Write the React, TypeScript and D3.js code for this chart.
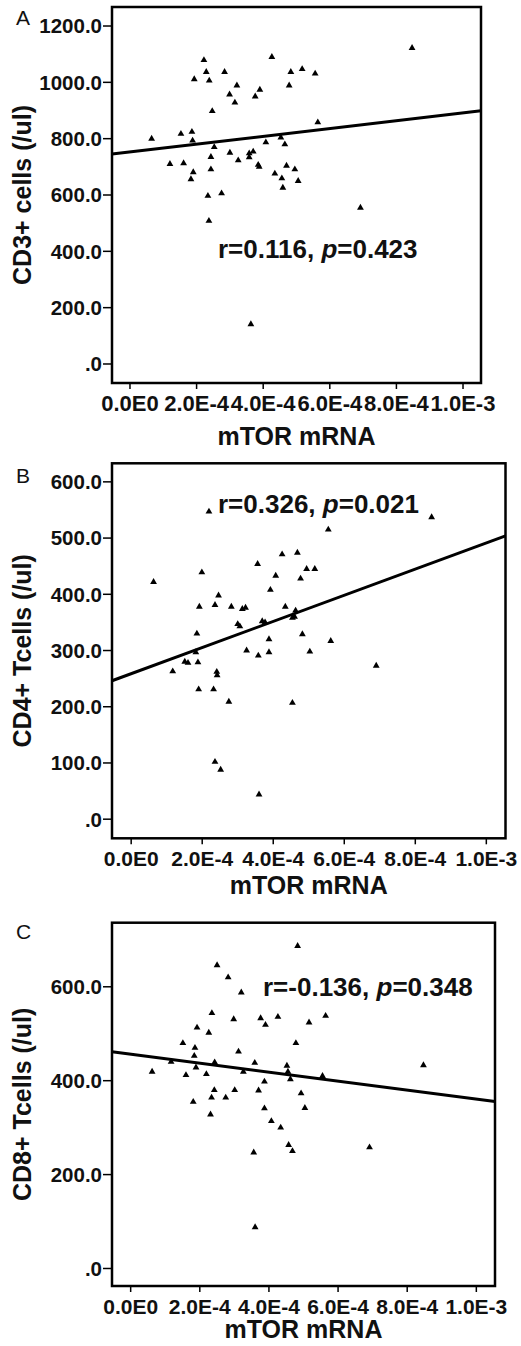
import React from "react";
import * as d3 from "d3";

// ---------- data ----------
const xTickValues = [0, 2e-4, 4e-4, 6e-4, 8e-4, 1e-3];
const xTickLabels = ["0.0E0", "2.0E-4", "4.0E-4", "6.0E-4", "8.0E-4", "1.0E-3"];

const mtorA = [0.65e-4,1.2e-4,1.53e-4,1.61e-4,1.86e-4,1.88e-4,1.9e-4,1.83e-4,1.93e-4,2.22e-4,2.29e-4,2.38e-4,2.47e-4,2.53e-4,2.43e-4,2.43e-4,2.34e-4,2.75e-4,2.37e-4,2.84e-4,2.99e-4,3.15e-4,3.21e-4,3.0e-4,3.25e-4,3.58e-4,3.7e-4,3.58e-4,3.76e-4,3.9e-4,3.85e-4,4.26e-4,4.83e-4,4.78e-4,5.17e-4,5.56e-4,5.64e-4,8.47e-4,6.92e-4,4.08e-4,4.53e-4,4.65e-4,3.88e-4,4.7e-4,4.95e-4,4.35e-4,4.56e-4,5.05e-4,4.59e-4,3.63e-4];
const cd3 = [800,710,817,713,824,793,681,656,1011,1079,1037,1006,898,770,735,691,597,606,508,1037,957,928,989,750,723,748,754,734,950,974,707,1090,1037,989,1047,1031,858,1122,555,787,804,780,700,704,691,676,659,650,626,141];

const mtorB = [0.63e-4,1.17e-4,1.51e-4,1.6e-4,1.82e-4,1.85e-4,1.88e-4,1.9e-4,1.92e-4,1.99e-4,2.19e-4,2.32e-4,2.36e-4,2.36e-4,2.41e-4,2.42e-4,2.46e-4,2.52e-4,2.75e-4,2.82e-4,3.0e-4,3.06e-4,3.13e-4,3.22e-4,3.25e-4,3.56e-4,3.58e-4,3.6e-4,3.69e-4,3.77e-4,3.88e-4,3.88e-4,3.92e-4,4.07e-4,4.25e-4,4.34e-4,4.54e-4,4.6e-4,4.54e-4,4.63e-4,4.68e-4,4.77e-4,4.82e-4,4.94e-4,5.03e-4,5.17e-4,5.55e-4,5.62e-4,6.9e-4,8.46e-4];
const cd4 = [422,263,280,278,297,330,279,231,378,439,547,231,381,102,262,256,398,88,209,378,347,343,374,376,300,454,291,44,352,350,320,297,408,433,471,378,358,360,207,371,474,428,329,445,298,445,515,317,273,537];

const mtorC = [0.62e-4,1.17e-4,1.51e-4,1.6e-4,1.81e-4,1.84e-4,1.86e-4,1.89e-4,1.92e-4,2.19e-4,2.26e-4,2.31e-4,2.34e-4,2.35e-4,2.42e-4,2.43e-4,2.5e-4,2.75e-4,2.82e-4,2.98e-4,3.01e-4,3.12e-4,3.2e-4,3.26e-4,3.56e-4,3.59e-4,3.6e-4,3.7e-4,3.76e-4,3.87e-4,3.87e-4,3.9e-4,4.07e-4,4.26e-4,4.34e-4,4.52e-4,4.55e-4,4.57e-4,4.62e-4,4.68e-4,4.78e-4,4.83e-4,4.93e-4,5.04e-4,5.16e-4,5.55e-4,5.64e-4,6.91e-4,8.47e-4];
const cd8 = [419,440,480,412,355,453,470,428,513,414,502,328,364,544,380,439,646,364,620,531,380,462,588,419,247,438,88,379,533,398,341,519,314,536,300,432,419,263,403,250,480,687,373,342,524,410,538,258,433];

const yTicksA = [0, 200, 400, 600, 800, 1000, 1200];
const yLabelsA = [".0", "200.0", "400.0", "600.0", "800.0", "1000.0", "1200.0"];
const yTicksB = [0, 100, 200, 300, 400, 500, 600];
const yLabelsB = [".0", "100.0", "200.0", "300.0", "400.0", "500.0", "600.0"];
const yTicksC = [0, 200, 400, 600];
const yLabelsC = [".0", "200.0", "400.0", "600.0"];

// fitted lines: [intercept, slope]
const fitA = [753, 138400];
const fitB = [258.8, 232500];
const fitC = [456.3, -95700];

const statsA = ["0.116", "0.423"];
const statsB = ["0.326", "0.021"];
const statsC = ["-0.136", "0.348"];

const yTitles = ["CD3+ cells (/ul)", "CD4+ Tcells (/ul)", "CD8+ Tcells (/ul)"];
const xTitle = "mTOR mRNA";
const panelLetters = ["A", "B", "C"];

const FONT = "'Liberation Sans', Arial, Helvetica, sans-serif";

type PanelProps = {
  xs: number[]; ys: number[];
  yTicks: number[]; yLabels: string[];
  fit: number[]; stats: string[];
  yTitle: string; letter: string;
  left: number; right: number; top: number; bottom: number;
  yDomain: [number, number];
  statX: number; statY: number;
  letterY: number; xTitleY: number; tickFont: number;
};

function Panel(p: PanelProps) {
  const xDomain: [number, number] = [-5.4e-5, 1.054e-3];
  const x = d3.scaleLinear().domain(xDomain).range([p.left, p.right]);
  const y = d3.scaleLinear().domain(p.yDomain).range([p.bottom, p.top]);
  const tri = d3.symbol().type(d3.symbolTriangle).size(20)() as string;
  const lineGen = d3.line<number>().x((d) => x(d)).y((d) => y(p.fit[0] + p.fit[1] * d));
  const cy = (p.top + p.bottom) / 2;
  const cx = (p.left + p.right) / 2;
  return (
    <g fontFamily={FONT}>
      <text x={16} y={p.letterY} fontSize={21} fill="#111">{p.letter}</text>
      {/* points */}
      {p.xs.map((v, i) => (
        <path key={i} d={tri} transform={`translate(${x(v)},${y(p.ys[i])})`} fill="#000" />
      ))}
      {/* regression line */}
      <path d={lineGen(xDomain) as string} stroke="#000" strokeWidth={3} fill="none" />
      {/* frame */}
      <rect x={p.left} y={p.top} width={p.right - p.left} height={p.bottom - p.top}
        fill="none" stroke="#000" strokeWidth={2.5} />
      {/* y ticks */}
      {p.yTicks.map((t, i) => (
        <g key={"y" + i}>
          <line x1={p.left - 9} x2={p.left} y1={y(t)} y2={y(t)} stroke="#000" strokeWidth={1.5} />
          <text x={p.left - 10} y={y(t)} dy="0.36em" textAnchor="end" fontSize={20.5} fontWeight="bold" fill="#111">
            {p.yLabels[i]}
          </text>
        </g>
      ))}
      {/* x ticks */}
      {xTickValues.map((t, i) => (
        <g key={"x" + i}>
          <line x1={x(t)} x2={x(t)} y1={p.bottom} y2={p.bottom + 6} stroke="#000" strokeWidth={1.5} />
          <text x={x(t)} y={p.bottom + 27.5} textAnchor="middle" fontSize={p.tickFont} fontWeight="bold" fill="#111">
            {xTickLabels[i]}
          </text>
        </g>
      ))}
      {/* titles */}
      <text x={cx} y={p.xTitleY} textAnchor="middle" fontSize={25} fontWeight="bold" fill="#111">{xTitle}</text>
      <text transform={`translate(31,${cy}) rotate(-90)`} textAnchor="middle" fontSize={25} fontWeight="bold" fill="#111">
        {p.yTitle}
      </text>
      {/* stats */}
      <text x={p.statX} y={p.statY} fontSize={26} fontWeight="bold" fill="#111">
        <tspan>{`r=${p.stats[0]}, `}</tspan>
        <tspan fontStyle="italic">p</tspan>
        <tspan>{`=${p.stats[1]}`}</tspan>
      </text>
    </g>
  );
}

export default function App() {
  return (
    <svg width={521} height={1346} style={{ position: "absolute", left: 0, top: 0, background: "#fff" }}>
      <rect width={521} height={1346} fill="#fff" />
      <Panel xs={mtorA} ys={cd3} yTicks={yTicksA} yLabels={yLabelsA} fit={fitA} stats={statsA}
        yTitle={yTitles[0]} letter={panelLetters[0]} left={112} right={481} top={7} bottom={383}
        yDomain={[-67.5, 1267.5]} statX={218} statY={258} letterY={25} xTitleY={445} tickFont={22} />
      <Panel xs={mtorB} ys={cd4} yTicks={yTicksB} yLabels={yLabelsB} fit={fitB} stats={statsB}
        yTitle={yTitles[1]} letter={panelLetters[1]} left={112} right={505.5} top={463.3} bottom={838.3}
        yDomain={[-34, 633]} statX={218} statY={513} letterY={483} xTitleY={894} tickFont={21} />
      <Panel xs={mtorC} ys={cd8} yTicks={yTicksC} yLabels={yLabelsC} fit={fitC} stats={statsC}
        yTitle={yTitles[2]} letter={panelLetters[2]} left={112} right={495} top={922.7} bottom={1286}
        yDomain={[-37.3, 736.5]} statX={263} statY={996} letterY={939} xTitleY={1338} tickFont={21} />
    </svg>
  );
}
